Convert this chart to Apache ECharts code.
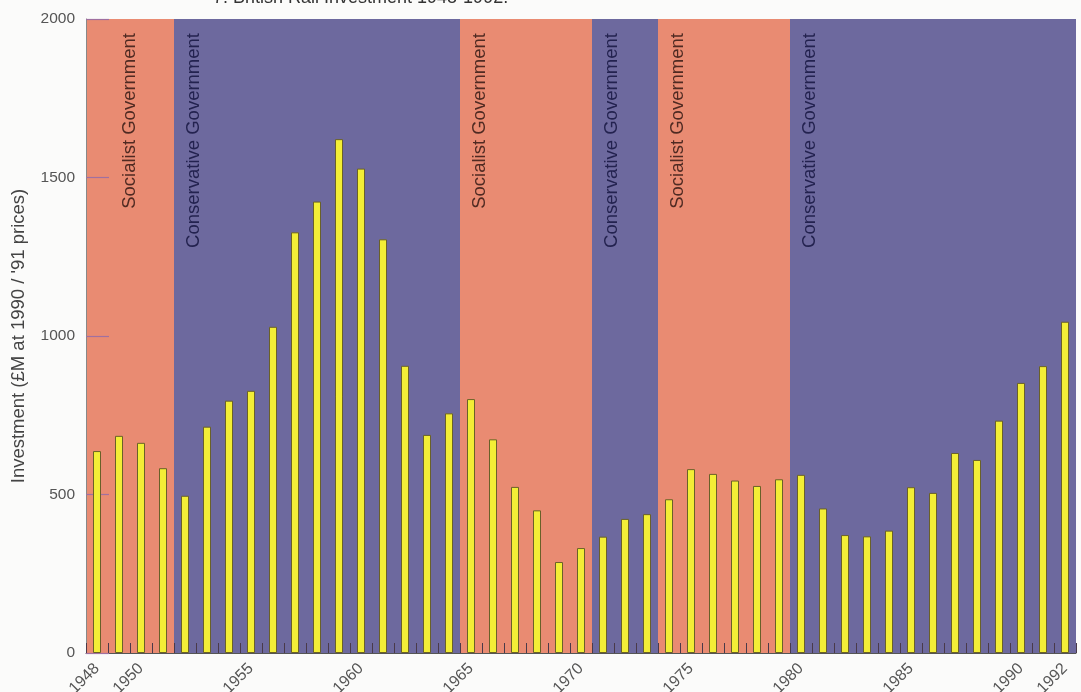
<!DOCTYPE html>
<html>
<head>
<meta charset="utf-8">
<script src="https://cdn.jsdelivr.net/npm/echarts@6/dist/echarts.min.js"></script>
<style>
html,body{margin:0;padding:0;background:#fbfbfa;}
#c{width:1081px;height:692px;}
</style>
</head>
<body>
<div id="c"></div>
<script>
// ---- data ----
var years = ['1948','1949','1950','1951','1952','1953','1954','1955','1956','1957',
  '1958','1959','1960','1961','1962','1963','1964','1965','1966','1967',
  '1968','1969','1970','1971','1972','1973','1974','1975','1976','1977',
  '1978','1979','1980','1981','1982','1983','1984','1985','1986','1987',
  '1988','1989','1990','1991','1992'];
var investment = [637,685,663,583,496,714,796,827,1029,1327,
  1424,1621,1528,1305,906,688,756,801,674,524,
  450,287,331,367,423,438,485,580,565,544,
  527,548,562,456,372,368,386,523,505,631,
  609,733,852,905,1045];
var shownYearLabels = ['1948','1950','1955','1960','1965','1970','1975','1980','1985','1990','1992'];
var govNames = ['Socialist Government','Conservative Government','Socialist Government',
  'Conservative Government','Socialist Government','Conservative Government'];
var govParty = ['socialist','conservative','socialist','conservative','socialist','conservative'];
var govFrom = ['1948','1952','1965','1971','1974','1980'];
var govTo   = ['1951','1964','1970','1973','1979','1992'];
var titleText = '7. British Rail Investment 1948-1992.';
var yAxisName = "Investment (£M at 1990 / '91 prices)";

// ---- styles ----
var partyFill = {socialist:'#e98b72', conservative:'#6d699e'};
var partyText = {socialist:'#4f2a22', conservative:'#23224f'};
var FONT = 'Liberation Sans, Arial, sans-serif';

var chart = echarts.init(document.getElementById('c'), null, {renderer:'canvas'});

var areas = govFrom.map(function(f, i){
  return [{xAxis:f, itemStyle:{color:partyFill[govParty[i]]}}, {xAxis:govTo[i]}];
});

var option = {
  backgroundColor:'#fbfbfa',
  animation:false,
  title:{
    text:titleText, left:208, top:-16,
    textStyle:{fontFamily:FONT, fontSize:18, fontWeight:'normal', color:'#333'}
  },
  grid:{left:86, right:5, top:19, bottom:39, containLabel:false, outerBoundsMode:'none'},
  xAxis:{
    type:'category', data:years, boundaryGap:true,
    axisLine:{show:true, lineStyle:{color:'#555', width:1}},
    axisTick:{show:true, inside:true, length:10, interval:0,
      lineStyle:{color:'#4a3a4a', width:1}},
    axisLabel:{
      rotate:45, margin:13, color:'#555', fontSize:16, fontFamily:FONT,
      interval:function(idx, val){ return shownYearLabels.indexOf(val) >= 0; }
    },
    splitLine:{show:false}
  },
  yAxis:{
    type:'value', min:0, max:2000, interval:500,
    name:yAxisName, nameLocation:'middle', nameGap:58, nameRotate:90,
    nameTextStyle:{fontFamily:FONT, fontSize:18.5, color:'#444'},
    axisLine:{show:true, lineStyle:{color:'#888', width:1}},
    axisTick:{show:true, inside:true, length:23, lineStyle:{color:'#a070a0', width:1.2}},
    axisLabel:{color:'#555', fontSize:15.5, margin:11, fontFamily:FONT,
      formatter:function(v){ return String(v); }},
    splitLine:{show:false}
  },
  series:[{
    type:'bar', data:investment, barWidth:8,
    itemStyle:{color:'#f3ee36', borderColor:'#6a6128', borderWidth:1},
    markArea:{silent:true, z:0, label:{show:false}, data:areas},
    z:3
  }]
};
chart.setOption(option);

// rotated government labels, placed via the axes
function placeLabels(){
  var band = chart.convertToPixel({xAxisIndex:0}, years[1]) - chart.convertToPixel({xAxisIndex:0}, years[0]);
  var topY = chart.convertToPixel({yAxisIndex:0}, 2000);
  var els = govFrom.map(function(f, i){
    var left = chart.convertToPixel({xAxisIndex:0}, f) - band/2;
    var right = chart.convertToPixel({xAxisIndex:0}, govTo[i]) + band/2;
    var x = (i === 0) ? (left + right)/2 : left + 20;
    return {
      type:'text', x:x, y:topY + 14, rotation:Math.PI/2, z:10,
      style:{text:govNames[i], fill:partyText[govParty[i]], fontSize:18.5,
        fontFamily:FONT, align:'right', verticalAlign:'middle'}
    };
  });
  chart.setOption({graphic:els});
}
placeLabels();
</script>
</body>
</html>
